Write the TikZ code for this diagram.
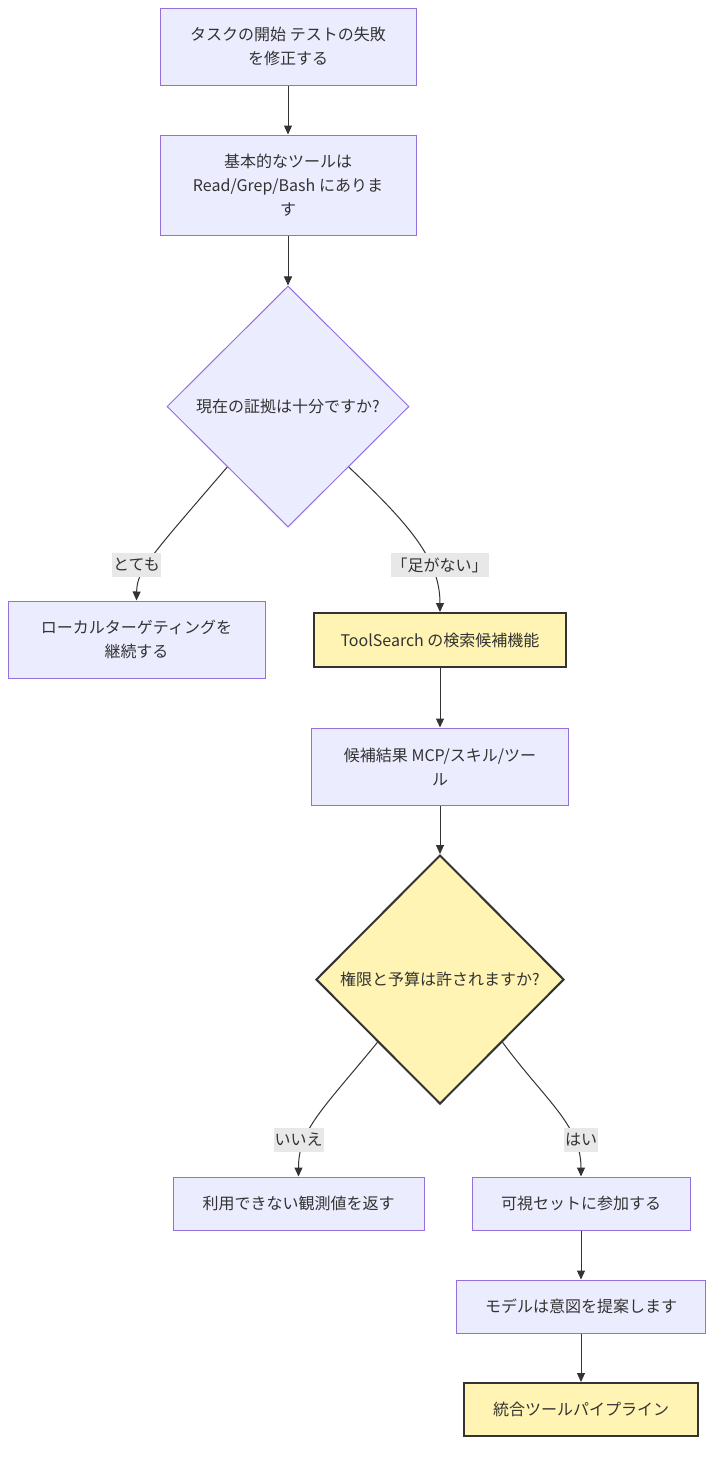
\documentclass[tikz,border=0pt]{standalone}
\usepackage{fontspec}
\setmainfont{Noto Sans CJK JP}
\usetikzlibrary{arrows.meta, shapes.geometric}
\definecolor{boxfill}{HTML}{ECECFF}
\definecolor{boxline}{HTML}{9370DB}
\definecolor{hilite}{HTML}{FFF4B3}
\definecolor{inkgrey}{HTML}{333333}
\definecolor{labelgrey}{HTML}{E8E8E8}

\begin{document}
\begin{tikzpicture}[x=1pt, y=-1pt,
  every node/.style={font=\fontsize{16}{24}\selectfont, text=inkgrey, align=center, inner sep=0pt},
  box/.style={rectangle, draw=boxline, fill=boxfill, line width=1pt},
  keybox/.style={rectangle, draw=inkgrey, fill=hilite, line width=2pt},
  choice/.style={diamond, aspect=1, draw=boxline, fill=boxfill, line width=1pt},
  flow/.style={draw=inkgrey, line width=1pt, -{Triangle[length=9pt, width=8pt]}},
  lbl/.style={fill=labelgrey, inner xsep=1pt, minimum height=24pt}]
  \useasboundingbox (0,0) rectangle (722,1460);

  % Upper column
  \node[box, minimum width=256pt, minimum height=77pt] (start) at (288,46.5) {タスクの開始 テストの失敗\\を修正する};
  \node[box, minimum width=256pt, minimum height=100pt] (basic) at (288,185) {基本的なツールは\\Read/Grep/Bash にありま\\す};
  \node[choice, minimum width=242pt, minimum height=241pt] (enough) at (288,406.5) {現在の証拠は十分ですか?};

  % First branch
  \node[box, minimum width=257pt, minimum height=77pt] (local) at (136.5,639.5) {ローカルターゲティングを\\継続する};
  \node[keybox, minimum width=252pt, minimum height=54pt] (search) at (440,640) {ToolSearch の検索候補機能};
  \node[box, minimum width=257pt, minimum height=77pt] (result) at (440,766.5) {候補結果 MCP/スキル/ツー\\ル};
  \node[choice, fill=hilite, draw=inkgrey, line width=2pt, minimum width=248pt, minimum height=249pt] (allow) at (440,979.5) {権限と予算は許されますか?};

  % Second branch
  \node[box, minimum width=251pt, minimum height=53pt] (unavail) at (298.5,1203.5) {利用できない観測値を返す};
  \node[box, minimum width=218pt, minimum height=53pt] (visible) at (581,1203.5) {可視セットに参加する};
  \node[box, minimum width=249pt, minimum height=53pt] (intent) at (581,1306.5) {モデルは意図を提案します};
  \node[keybox, minimum width=234pt, minimum height=53pt] (pipeline) at (581,1409.5) {統合ツールパイプライン};

  % Straight links
  \draw[flow] (start) -- (basic);
  \draw[flow] (basic) -- (enough);
  \draw[flow] (search) -- (result);
  \draw[flow] (result) -- (allow);
  \draw[flow] (visible) -- (intent);
  \draw[flow] (intent) -- (pipeline);

  % Curved links with labels
  \draw[flow] (enough.south west) .. controls (150,557) and (137,570) .. (local.north)
    node[lbl] (lenough) at (136.5,565) {とても};
  \draw[flow] (enough.south east) .. controls (410,525) and (440,560) .. (search.north)
    node[lbl] (lshort) at (439.5,565) {「足がない」};
  \draw[flow] (allow.south west) .. controls (322,1110) and (298.5,1130) .. (unavail.north)
    node[lbl] (lno) at (298.5,1140) {いいえ};
  \draw[flow] (allow.south east) .. controls (545,1100) and (581,1125) .. (visible.north)
    node[lbl] (lyes) at (581,1140) {はい};
\end{tikzpicture}
\end{document}
